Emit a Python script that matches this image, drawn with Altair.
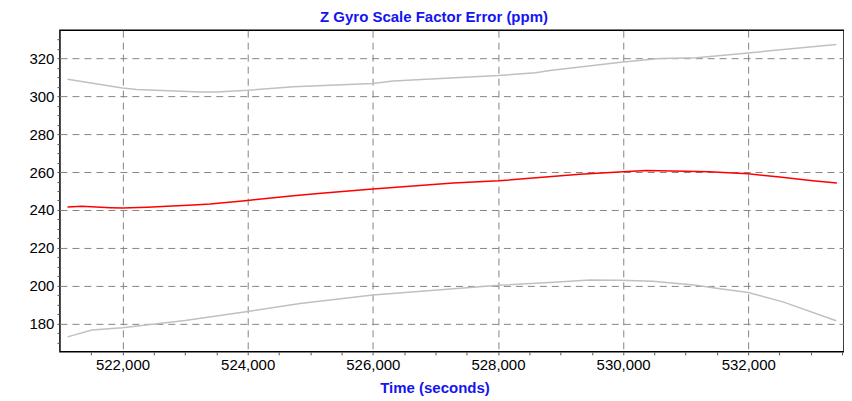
import altair as alt
import pandas as pd

# Red (estimate) line
red_t = [521121, 521351, 521803, 522000, 522400, 522708, 523133, 523400, 524000, 524730,
         525129, 526000, 527285, 528014, 529308, 530000, 530372, 531383, 531755, 532000,
         532501, 533033, 533416]
red_v = [241.5, 241.9, 241.2, 241.0, 241.4, 241.9, 242.6, 243.2, 245.0, 247.5,
         248.7, 251.1, 254.2, 255.4, 258.9, 260.2, 260.8, 260.2, 259.5, 259.1,
         257.4, 255.4, 254.2]

# Upper bound (gray)
up_t = [521121, 522000, 522229, 523240, 523506, 524000, 524730, 526000, 526327, 527391,
        528000, 528600, 528830, 530000, 530585, 531171, 532000, 533407]
up_v = [309.1, 304.5, 303.7, 302.3, 302.3, 303.2, 305.1, 306.8, 308.2, 310.0,
        311.0, 312.5, 313.7, 318.2, 320.0, 320.5, 323.0, 327.4]

# Lower bound (gray)
lo_t = [521121, 521511, 522000, 523000, 524000, 524837, 526000, 528014, 528827, 529467,
        529946, 530479, 531171, 531490, 532000, 532554, 533407]
lo_v = [172.9, 176.5, 177.7, 181.6, 186.3, 190.5, 195.0, 200.2, 201.6, 203.0,
        202.8, 202.3, 200.2, 198.6, 196.3, 191.4, 181.4]

x_ticks = list(range(521500, 533501, 500))
y_ticks = list(range(170, 331, 5))

gray_rows = []
for name, ts, vs in [("upper", up_t, up_v), ("lower", lo_t, lo_v)]:
    for t, v in zip(ts, vs):
        gray_rows.append({"series": name, "t": t, "v": v})
gray_df = pd.DataFrame(gray_rows)
red_df = pd.DataFrame({"t": red_t, "v": red_v})

FONT = "Liberation Sans"
BLUE = "#1414f0"

x_axis = alt.Axis(
    values=x_ticks, tickCount=len(x_ticks) + 5,
    labelExpr="datum.value % 2000 === 0 ? format(datum.value, ',') : ''",
    labelOverlap=False,
    labelFont=FONT, labelFontSize=15, labelColor="black", labelPadding=3,
    grid=True, gridColor="#858585", gridDash=[7, 5], gridWidth=1,
    gridOpacity={"condition": {"test": "datum.value % 2000 === 0", "value": 1}, "value": 0},
    domain=False, ticks=True, tickSize=3, tickColor="#555555",
    title="Time (seconds)", titleFont=FONT, titleFontSize=15, titleFontWeight="bold",
    titleColor=BLUE, titleX=375, titleY=41, titleAlign="center", titleBaseline="alphabetic",
)
y_axis = alt.Axis(
    values=y_ticks, tickCount=len(y_ticks) + 5,
    labelExpr="datum.value % 20 === 0 ? format(datum.value, 'd') : ''",
    labelOverlap=False,
    labelFont=FONT, labelFontSize=15, labelColor="black", labelPadding=3,
    grid=True, gridColor="#858585", gridDash=[7, 5], gridWidth=1,
    gridOpacity={"condition": {"test": "datum.value % 20 === 0", "value": 1}, "value": 0},
    domain=False, ticks=True, tickSize=3, tickColor="#555555",
    title=None,
)

xs = alt.Scale(domain=[521000, 533530], nice=False, zero=False)
ys = alt.Scale(domain=[165, 335], nice=False, zero=False)

gray = alt.Chart(gray_df).mark_line(color="#c0c0c0", strokeWidth=1.5).encode(
    x=alt.X("t:Q", scale=xs, axis=x_axis),
    y=alt.Y("v:Q", scale=ys, axis=y_axis),
    detail="series:N",
)
red = alt.Chart(red_df).mark_line(color="#ff0000", strokeWidth=1.5).encode(
    x=alt.X("t:Q", scale=xs, axis=x_axis),
    y=alt.Y("v:Q", scale=ys, axis=y_axis),
)

chart = alt.layer(gray, red).properties(
    width=785, height=322,
    title=alt.TitleParams(
        "Z Gyro Scale Factor Error (ppm)", font=FONT, fontSize=15, fontWeight="bold",
        color=BLUE, anchor="middle", dx=-18, offset=5,
    ),
    autosize=alt.AutoSizeParams(type="none"),
    padding={"left": 52, "top": 22, "right": 0, "bottom": 50},
).configure_view(stroke="black", strokeWidth=1.5)

chart.save("out.html", embed_options={"renderer": "svg", "actions": False})
